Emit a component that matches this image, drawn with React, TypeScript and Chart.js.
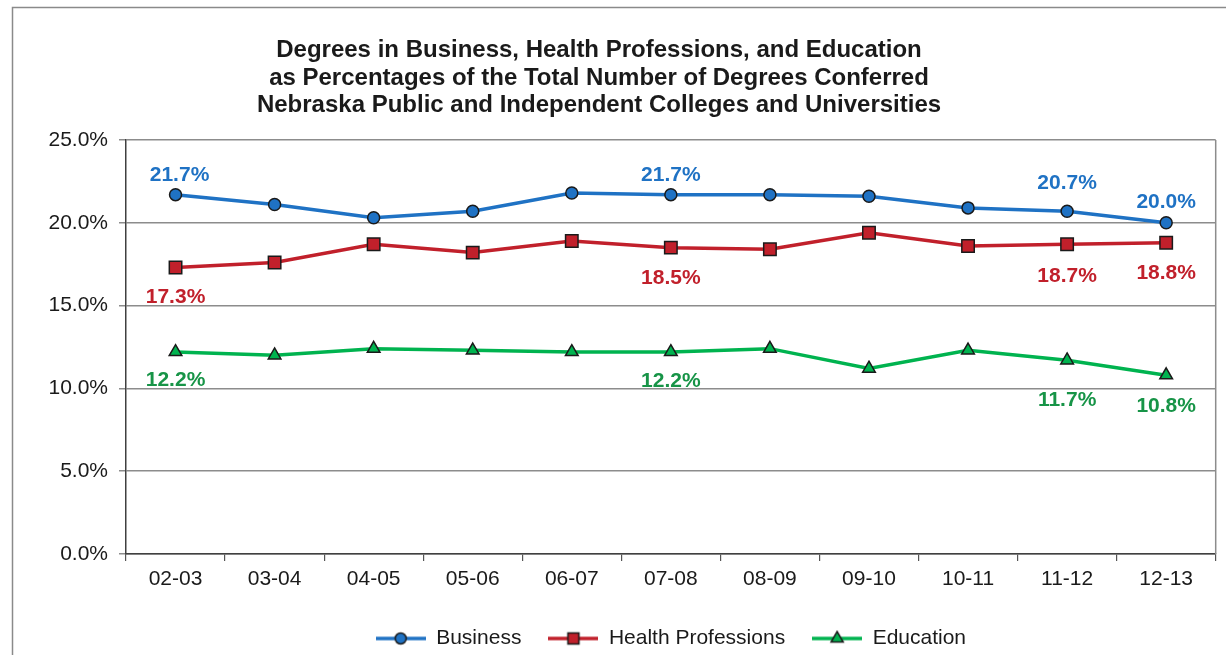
import React, { useEffect, useRef } from "react";
import { Chart, registerables } from "chart.js";

Chart.register(...registerables);

// ---------- data ----------
const categories = ["02-03", "03-04", "04-05", "05-06", "06-07", "07-08", "08-09", "09-10", "10-11", "11-12", "12-13"];
const business = [21.7, 21.1, 20.3, 20.7, 21.8, 21.7, 21.7, 21.6, 20.9, 20.7, 20.0];
const health = [17.3, 17.6, 18.7, 18.2, 18.9, 18.5, 18.4, 19.4, 18.6, 18.7, 18.8];
const education = [12.2, 12.0, 12.4, 12.3, 12.2, 12.2, 12.4, 11.2, 12.3, 11.7, 10.8];
const seriesNames = ["Business", "Health Professions", "Education"];
const labeledIndices = [0, 5, 9, 10];
const titleLines = [
  "Degrees in Business, Health Professions, and Education",
  "as Percentages of the Total Number of Degrees Conferred",
  "Nebraska Public and Independent Colleges and Universities",
];
const yMin = 0;
const yMax = 25;
const yStep = 5;

// ---------- styles ----------
const FONT = "'Liberation Sans', Arial, Helvetica, sans-serif";
const TEXT = "#1a1a1a";
const MARKER_BORDER = "#1a1a1a";
const seriesStyles = [
  { line: "#1F72C4", label: "#1F72C4", point: "circle", radius: 6 },
  { line: "#C1202B", label: "#C1202B", point: "rect", radius: 8.8 },
  { line: "#00B34F", label: "#179447", point: "triangle", radius: 7.3 },
];
// offsets (px) of the value labels from their point, per series, per labeled index
const labelOffsets = [
  [{ dx: 4, dy: -19 }, { dx: 0, dy: -19 }, { dx: 0, dy: -28 }, { dx: 0, dy: -21 }],
  [{ dx: 0, dy: 30 }, { dx: 0, dy: 31 }, { dx: 0, dy: 32 }, { dx: 0, dy: 31 }],
  [{ dx: 0, dy: 28 }, { dx: 0, dy: 29 }, { dx: 0, dy: 40 }, { dx: 0, dy: 31 }],
];

function makeLegendIcon(style: any): HTMLCanvasElement {
  const c = document.createElement("canvas");
  c.width = 50;
  c.height = 18;
  const ctx = c.getContext("2d")!;
  const cy = 9;
  ctx.strokeStyle = style.line;
  ctx.lineWidth = 3.5;
  ctx.beginPath();
  ctx.moveTo(0, cy);
  ctx.lineTo(50, cy);
  ctx.stroke();
  ctx.fillStyle = style.line;
  ctx.strokeStyle = MARKER_BORDER;
  ctx.lineWidth = 1.5;
  ctx.beginPath();
  const cx = 25;
  if (style.point === "circle") {
    ctx.arc(cx, cy, 5.5, 0, Math.PI * 2);
  } else if (style.point === "rect") {
    ctx.rect(cx - 5.5, cy - 5.5, 11, 11);
  } else {
    const r = 7;
    ctx.moveTo(cx, cy - r);
    ctx.lineTo(cx + r * Math.sin((2 * Math.PI) / 3), cy - r * Math.cos((2 * Math.PI) / 3));
    ctx.lineTo(cx + r * Math.sin((4 * Math.PI) / 3), cy - r * Math.cos((4 * Math.PI) / 3));
    ctx.closePath();
  }
  ctx.fill();
  ctx.stroke();
  return c;
}

const framePlugin = {
  id: "frame",
  beforeDraw(chart: any) {
    const ctx = chart.ctx;
    ctx.save();
    ctx.strokeStyle = "#8a8a8a";
    ctx.lineWidth = 1.5;
    ctx.strokeRect(12.5, 7.5, 1400, 800);
    ctx.restore();
  },
  beforeDatasetsDraw(chart: any) {
    const { ctx, chartArea } = chart;
    ctx.save();
    ctx.strokeStyle = "#8c8c8c";
    ctx.lineWidth = 1.5;
    ctx.beginPath();
    ctx.moveTo(chartArea.right, chartArea.top);
    ctx.lineTo(chartArea.right, chartArea.bottom);
    ctx.stroke();
    ctx.restore();
  },
  afterDraw(chart: any) {
    const ctx = chart.ctx;
    ctx.save();
    ctx.fillStyle = TEXT;
    ctx.font = `bold 24px ${FONT}`;
    ctx.textAlign = "center";
    ctx.textBaseline = "middle";
    const ys = [50, 78, 105];
    titleLines.forEach((t, i) => ctx.fillText(t, 599, ys[i]));
    ctx.restore();
  },
};

const valueLabelPlugin = {
  id: "valueLabels",
  afterDatasetsDraw(chart: any) {
    const ctx = chart.ctx;
    ctx.save();
    ctx.font = `bold 21px ${FONT}`;
    ctx.textAlign = "center";
    ctx.textBaseline = "middle";
    chart.data.datasets.forEach((ds: any, di: number) => {
      const meta = chart.getDatasetMeta(di);
      ctx.fillStyle = seriesStyles[di].label;
      labeledIndices.forEach((idx, k) => {
        const el = meta.data[idx];
        if (!el) return;
        const off = labelOffsets[di][k];
        ctx.fillText(`${Number(ds.data[idx]).toFixed(1)}%`, el.x + off.dx, el.y + off.dy);
      });
    });
    ctx.restore();
  },
};

export default function App() {
  const ref = useRef<HTMLCanvasElement | null>(null);

  useEffect(() => {
    if (!ref.current) return;
    const seriesData = [business, health, education];
    const icons = seriesStyles.map(makeLegendIcon);
    const chart = new Chart(ref.current, {
      type: "line",
      data: {
        labels: categories,
        datasets: seriesData.map((d, i) => ({
          label: seriesNames[i],
          data: d,
          borderColor: seriesStyles[i].line,
          backgroundColor: seriesStyles[i].line,
          borderWidth: 3.5,
          pointStyle: seriesStyles[i].point as any,
          pointRadius: seriesStyles[i].radius,
          pointBackgroundColor: seriesStyles[i].line,
          pointBorderColor: MARKER_BORDER,
          pointBorderWidth: 1.5,
          tension: 0,
          fill: false,
        })),
      },
      options: {
        responsive: false,
        animation: false,
        events: [],
        layout: { padding: { top: 140, left: 0, right: 10, bottom: -4 } },
        scales: {
          x: {
            offset: true,
            afterFit: (s: any) => {
              s.height = 47;
            },
            grid: {
              offset: true,
              drawOnChartArea: false,
              drawTicks: true,
              tickLength: 7,
              color: "#555555",
              lineWidth: 1.2,
            },
            border: { color: "#404040", width: 1.5 },
            ticks: { color: TEXT, font: { family: FONT, size: 21 }, padding: 6 },
          },
          y: {
            min: yMin,
            max: yMax,
            afterFit: (s: any) => {
              s.width = 126;
            },
            grid: { color: "#8c8c8c", lineWidth: 1.5, tickLength: 7, drawTicks: true },
            border: { color: "#404040", width: 1.5 },
            ticks: {
              stepSize: yStep,
              color: TEXT,
              font: { family: FONT, size: 21 },
              padding: 11,
              callback: (v: any) => `${Number(v).toFixed(1)}%`,
            },
          },
        },
        plugins: {
          title: { display: false },
          tooltip: { enabled: false },
          legend: {
            position: "bottom",
            fullSize: false,
            labels: {
              usePointStyle: true,
              pointStyleWidth: 50,
              padding: 27,
              color: TEXT,
              font: { family: FONT, size: 21 },
              generateLabels: (c: any) => {
                const items = (Chart.defaults.plugins.legend.labels as any).generateLabels(c);
                return items.map((it: any, i: number) => ({ ...it, pointStyle: icons[i] }));
              },
            },
          },
        },
      },
      plugins: [framePlugin, valueLabelPlugin],
    });
    return () => chart.destroy();
  }, []);

  return (
    <div style={{ position: "absolute", left: 0, top: 0, width: 1226, height: 655, background: "#fff" }}>
      <canvas ref={ref} width={1226} height={655} style={{ display: "block" }} />
    </div>
  );
}
